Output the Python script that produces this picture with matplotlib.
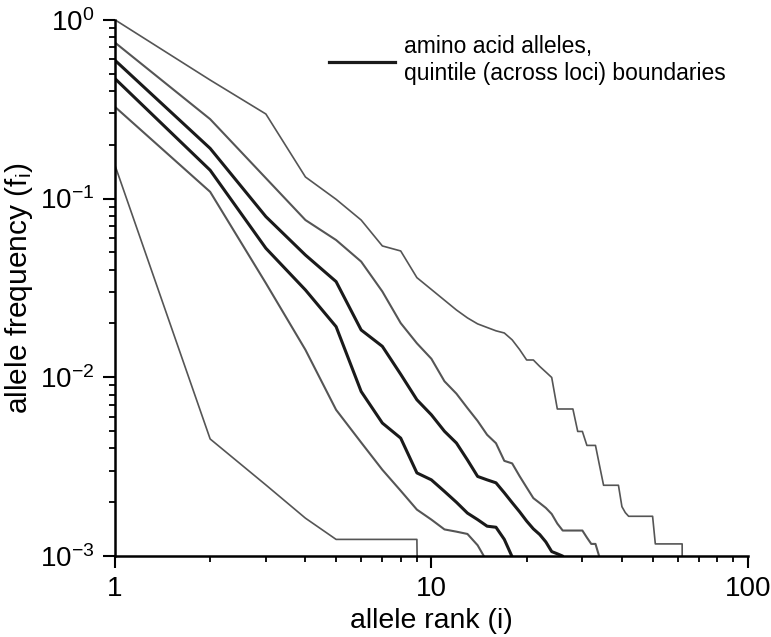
import matplotlib
matplotlib.use("Agg")
import matplotlib.pyplot as plt
import matplotlib.ticker as mticker
import numpy as np

plt.rcParams['font.family'] = ['Liberation Sans', 'DejaVu Sans']
plt.rcParams['mathtext.fontset'] = 'custom'
plt.rcParams['mathtext.rm'] = 'Liberation Sans'
plt.rcParams['mathtext.it'] = 'Liberation Sans:italic'

# allele frequency by rank, one list per quintile boundary (0 = no more alleles)
q100 = [1.0, 0.46, 0.297, 0.132, 0.099, 0.0758, 0.0543, 0.0509, 0.0361, 0.031,
        0.027, 0.0238, 0.0215, 0.0199, 0.019, 0.0182, 0.0177, 0.0162, 0.0143, 0.0125,
        0.0125, 0.0115, 0.0107, 0.00998, 0.00665, 0.00665, 0.00665, 0.00665, 0.00498, 0.00498,
        0.00416, 0.00416, 0.00416, 0.0032, 0.00249, 0.00249, 0.00249, 0.00249, 0.00249, 0.00189,
        0.00175, 0.00167, 0.00167, 0.00167, 0.00167, 0.00167, 0.00167, 0.00167, 0.00167, 0.00167,
        0.00117, 0.00117, 0.00117, 0.00117, 0.00117, 0.00117, 0.00117, 0.00117, 0.00117, 0.00117,
        0.00117, 0.00117, 0]
q80 = [0.746, 0.278, 0.13, 0.0758, 0.0586, 0.0444, 0.0302, 0.0201, 0.0155, 0.0127,
       0.0095, 0.0081, 0.00673, 0.0057, 0.00477, 0.00428, 0.00341, 0.0033, 0.0028, 0.00242,
       0.00211, 0.00198, 0.00186, 0.00172, 0.00152, 0.00139, 0.00139, 0.00139, 0.00139, 0.00139,
       0.00127, 0.00117, 0.00117, 0.00098, 0]
q60 = [0.594, 0.1907, 0.0792, 0.0483, 0.0343, 0.0184, 0.0149, 0.0104, 0.00749, 0.00617,
       0.00499, 0.00429, 0.00345, 0.00279, 0.00267, 0.00257, 0.00226, 0.00199, 0.00177, 0.00157,
       0.00142, 0.00132, 0.0012, 0.00106, 0.00103, 0.001, 0]
q40 = [0.469, 0.144, 0.0527, 0.0308, 0.0192, 0.00833, 0.00555, 0.00457, 0.00292, 0.00267,
       0.0023, 0.002, 0.00174, 0.0016, 0.00147, 0.00145, 0.00124, 0.00099, 0]
q20 = [0.326, 0.109, 0.0336, 0.01425, 0.00658, 0.00432, 0.00304, 0.00232, 0.00182, 0.0016,
       0.00141, 0.00137, 0.00133, 0.00115, 0.00093, 0]
q0 = [0.154, 0.00452, 0.0025, 0.00163, 0.00124, 0.00124, 0.00124, 0.00124, 0.00124, 0]

gray = '#555555'
dark = '#1a1a1a'
curves = [(q100, gray, 1.2), (q80, gray, 1.5), (q60, dark, 2.2),
          (q40, dark, 2.2), (q20, gray, 1.5), (q0, gray, 1.2)]

fig = plt.figure(figsize=(7.71, 6.37), dpi=100)
ax = fig.add_axes([0.149, 0.127, 0.821, 0.842])

for freqs, color, lw in curves:
    f = np.array(freqs, dtype=float)
    f[f == 0] = 1e-9  # log scale: drop straight to the axis
    ranks = np.arange(1, len(f) + 1)
    ax.plot(ranks, f, color=color, linewidth=lw, solid_joinstyle='round')

ax.set_xscale('log')
ax.set_yscale('log')
ax.set_xlim(1, 100)
ax.set_ylim(1e-3, 1)

ax.xaxis.set_major_locator(mticker.FixedLocator([1, 10, 100]))
ax.xaxis.set_major_formatter(mticker.FixedFormatter(['1', '10', '100']))
ax.xaxis.set_minor_formatter(mticker.NullFormatter())
ax.yaxis.set_minor_formatter(mticker.NullFormatter())

for side in ['top', 'right']:
    ax.spines[side].set_visible(False)
for side in ['left', 'bottom']:
    ax.spines[side].set_linewidth(1.8)
ax.tick_params(which='major', direction='out', length=8.5, width=1.5, labelsize=20, pad=6)
ax.tick_params(which='minor', direction='out', length=4, width=1.3)

ax.set_xlabel('allele rank (i)', fontsize=20.5, labelpad=4)
ax.set_ylabel('allele frequency (f$_\\mathregular{i}$)', fontsize=21.5, labelpad=4)

# legend drawn by hand, as in the original figure
fig.add_artist(plt.Line2D([0.427, 0.512], [0.903, 0.903], transform=fig.transFigure,
                          color=dark, linewidth=2.3))
fig.text(0.524, 0.906, 'amino acid alleles,\nquintile (across loci) boundaries',
         fontsize=16.5, va='center', ha='left', linespacing=1.2)

fig.savefig('out.png', dpi=100)
